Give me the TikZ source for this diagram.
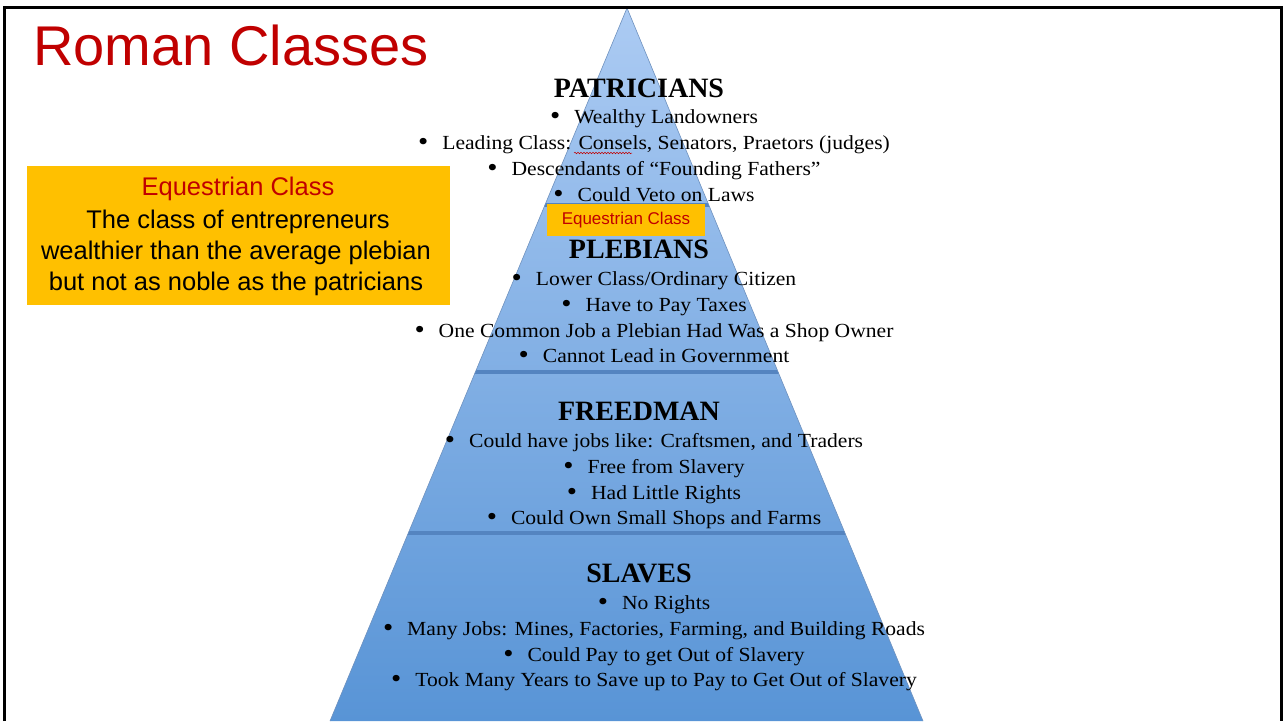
\documentclass[tikz,border=0pt]{standalone}
\usepackage{fontspec}
\setmainfont[FakeStretch=1.08]{Liberation Serif}
\newfontfamily\headfont{Liberation Serif}
\newfontfamily\boxfont{Liberation Sans}
\usepackage{tikz}
\usetikzlibrary{calc}
\usetikzlibrary{decorations.pathmorphing}

\definecolor{titlered}{RGB}{192,0,0}
\definecolor{boxorange}{RGB}{255,192,0}
\definecolor{toplight}{RGB}{172,203,243}
\definecolor{bottomdark}{RGB}{88,148,214}
\definecolor{sepblue}{RGB}{84,132,192}
\definecolor{edgeblue}{RGB}{110,145,190}

\tikzset{
  heading/.style={anchor=base,inner sep=0pt,font=\headfont\fontsize{28}{30}\selectfont\bfseries},
  bulletline/.style={anchor=base,inner sep=0pt,font=\fontsize{20}{22}\selectfont},
  boxline/.style={anchor=base,inner sep=0pt,font=\boxfont\fontsize{25.5}{27}\selectfont},
}
\newcommand{\bl}[1]{\raisebox{-1.8pt}{\scalebox{1.35}{\textbullet}}\hspace{14pt}#1}

\begin{document}
\begin{tikzpicture}[x=1pt,y=-1pt]

\useasboundingbox (0,0) rectangle (1287,721);

\coordinate (apex) at (627,8);
\coordinate (baseL) at (330,721);
\coordinate (baseR) at (923,721);

\shade[top color=toplight,bottom color=bottomdark] (apex)--(baseR)--(baseL)--cycle;
\begin{scope}
  \clip (apex)--(baseR)--(baseL)--cycle;
  \draw[sepblue,line width=4.5pt] (300,205)--(960,205);
  \draw[sepblue,line width=4.5pt] (300,372)--(960,372);
  \draw[sepblue,line width=4.5pt] (300,533)--(960,533);
\end{scope}
\draw[edgeblue,line width=0.6pt] (baseL)--(apex)--(baseR);

\node[anchor=base west,inner sep=0pt,text=titlered,font=\boxfont\fontsize{56}{60}\selectfont] (title) at (33,65) {Roman Classes};

\node[heading] (patricians) at (639,97) {PATRICIANS};
\node[bulletline] (pat1) at (654,123) {\bl{Wealthy Landowners}};
\node[bulletline] (pat2) at (654,149) {\bl{Leading Class: Consels, Senators, Praetors (judges)}};
\node[bulletline] (pat3) at (654,175) {\bl{Descendants of “Founding Fathers”}};
\node[bulletline] (pat4) at (654,201) {\bl{Could Veto on Laws}};
\draw[titlered,line width=0.5pt,decorate,decoration={snake,amplitude=0.8pt,segment length=3pt}] (574,153)--(632,153);

\node[fill=boxorange,text=titlered,minimum width=158pt,minimum height=32pt,inner sep=0pt,font=\boxfont\fontsize{17}{19}\selectfont] (eqlabel) at (626,220) {Equestrian Class};

\node[heading] (plebians) at (639,258) {PLEBIANS};
\node[bulletline] (ple1) at (654,285) {\bl{Lower Class/Ordinary Citizen}};
\node[bulletline] (ple2) at (654,311) {\bl{Have to Pay Taxes}};
\node[bulletline] (ple3) at (654,337) {\bl{One Common Job a Plebian Had Was a Shop Owner}};
\node[bulletline] (ple4) at (654,362) {\bl{Cannot Lead in Government}};

\node[heading] (freedman) at (639,420) {FREEDMAN};
\node[bulletline] (fre1) at (654,447) {\bl{Could have jobs like: Craftsmen, and Traders}};
\node[bulletline] (fre2) at (654,473) {\bl{Free from Slavery}};
\node[bulletline] (fre3) at (654,499) {\bl{Had Little Rights}};
\node[bulletline] (fre4) at (654,524) {\bl{Could Own Small Shops and Farms}};

\node[heading] (slaves) at (639,582) {SLAVES};
\node[bulletline] (sla1) at (654,609) {\bl{No Rights}};
\node[bulletline] (sla2) at (654,635) {\bl{Many Jobs: Mines, Factories, Farming, and Building Roads}};
\node[bulletline] (sla3) at (654,661) {\bl{Could Pay to get Out of Slavery}};
\node[bulletline] (sla4) at (654,686) {\bl{Took Many Years to Save up to Pay to Get Out of Slavery}};

\node[fill=boxorange,anchor=north west,minimum width=423pt,minimum height=139pt,inner sep=0pt] (eqbox) at (27,166) {};
\node[boxline,text=titlered] (eqtitle) at (238,195) {Equestrian Class};
\node[boxline] (eqline1) at (238,228) {The class of entrepreneurs};
\node[boxline] (eqline2) at (236,259) {wealthier than the average plebian};
\node[boxline] (eqline3) at (236,290) {but not as noble as the patricians};

\draw[black,line width=3pt] (4,721)--(4,7)--(1281,7)--(1281,721);

\end{tikzpicture}
\end{document}
